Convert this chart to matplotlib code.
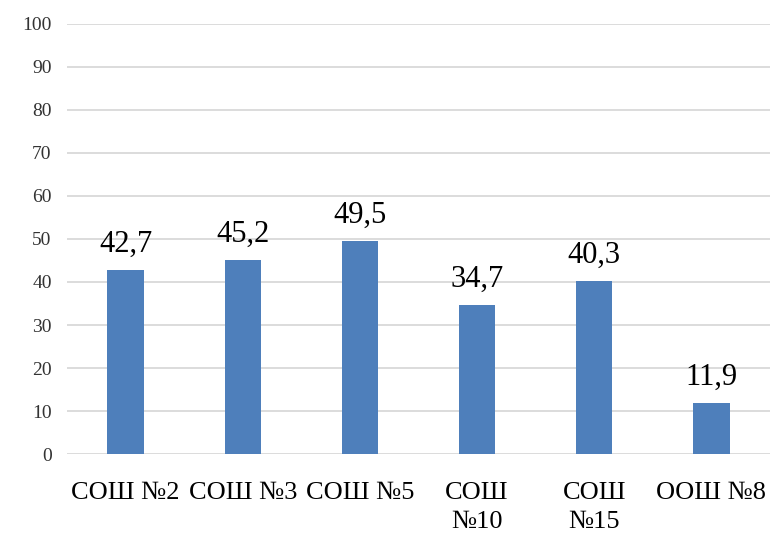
import matplotlib
matplotlib.use("Agg")
import matplotlib.pyplot as plt

categories = ["СОШ №2", "СОШ №3", "СОШ №5", "СОШ\n№10", "СОШ\n№15", "ООШ №8"]
values = [42.7, 45.2, 49.5, 34.7, 40.3, 11.9]
value_labels = ["42,7", "45,2", "49,5", "34,7", "40,3", "11,9"]
yticks = [0, 10, 20, 30, 40, 50, 60, 70, 80, 90, 100]

plt.rcParams['font.family'] = ['Liberation Serif', 'DejaVu Serif']

fig = plt.figure(figsize=(7.76, 5.40), dpi=100)
ax = fig.add_axes([0.0863, 0.159, 0.906, 0.797])

x = list(range(len(categories)))
bars = ax.bar(x, values, width=0.31, color="#4e7fbb", zorder=3)

ax.set_xlim(-0.5, len(categories) - 0.5)
ax.set_ylim(0, 100)
ax.set_yticks(yticks)
ax.set_yticklabels([str(t) for t in yticks], fontsize=14, color="#333333")
ax.set_xticks(x)
ax.set_xticklabels(categories, fontsize=19, color="black", linespacing=1.4, va="top")
ax.tick_params(axis="both", length=0)
ax.tick_params(axis="y", pad=11)
ax.tick_params(axis="x", pad=20)

ax.yaxis.grid(True, color="#d9d9d9", linewidth=1.3, zorder=0)
for s in ax.spines.values():
    s.set_visible(False)

for xi, v, lab in zip(x, values, value_labels):
    ax.annotate(lab, (xi, v), xytext=(0, 8), textcoords="offset points",
                ha="center", va="bottom", fontsize=22, color="black")

fig.savefig("out.png", dpi=100)
